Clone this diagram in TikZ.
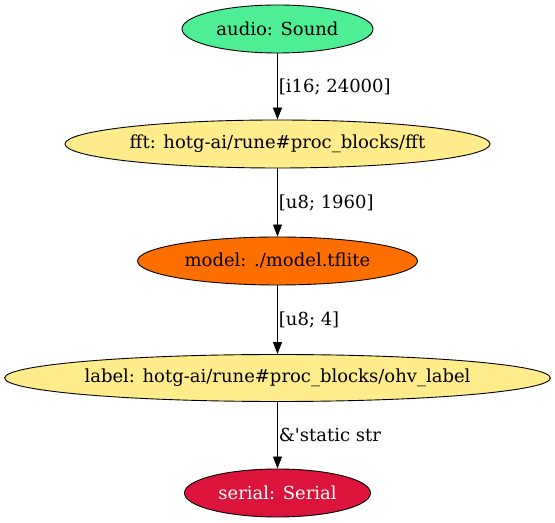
\documentclass[tikz,border=0pt]{standalone}
\usepackage{fontspec}
\setmainfont{DejaVu Serif}
\usetikzlibrary{shapes.geometric,arrows.meta}
\definecolor{cgreen}{RGB}{78,238,148}
\definecolor{cyellow}{RGB}{255,236,139}
\definecolor{corange}{RGB}{255,111,0}
\definecolor{ccrimson}{RGB}{220,20,60}
\tikzset{
  gnode/.style={ellipse, draw=black, line width=0.9bp, inner sep=0pt,
    font=\fontsize{18bp}{21bp}\selectfont, minimum height=48bp},
  elabel/.style={anchor=west, inner sep=0pt, font=\fontsize{18bp}{21bp}\selectfont},
  edge/.style={draw=black, line width=0.9bp, -{Triangle[length=12bp,width=9bp]}}
}
\begin{document}
\begin{tikzpicture}[x=1bp,y=1bp]
\useasboundingbox (0,0) rectangle (555,523);
\node[gnode, fill=cgreen, minimum width=191bp] (audio) at (277.5,494) {audio: Sound};
\node[gnode, fill=cyellow, minimum width=425bp] (fft) at (277.5,379) {fft: hotg-ai/rune\#proc\_blocks/fft};
\node[gnode, fill=corange, minimum width=280bp] (model) at (277.5,262) {model: ./model.tflite};
\node[gnode, fill=cyellow, minimum width=545bp, minimum height=47bp] (label) at (277.5,145) {label: hotg-ai/rune\#proc\_blocks/ohv\_label};
\node[gnode, fill=ccrimson, minimum width=186bp, text=white] (serial) at (277.5,30) {serial: Serial};
\draw[edge] (audio) -- (fft) node[elabel, pos=0.5, xshift=1bp] (l1) {[i16; 24000]};
\draw[edge] (fft) -- (model) node[elabel, pos=0.5, xshift=1bp] (l2) {[u8; 1960]};
\draw[edge] (model) -- (label) node[elabel, pos=0.5, xshift=1bp] (l3) {[u8; 4]};
\draw[edge] (label) -- (serial) node[elabel, pos=0.5, xshift=1bp] (l4) {\&\textquotesingle static str};
\end{tikzpicture}
\end{document}
